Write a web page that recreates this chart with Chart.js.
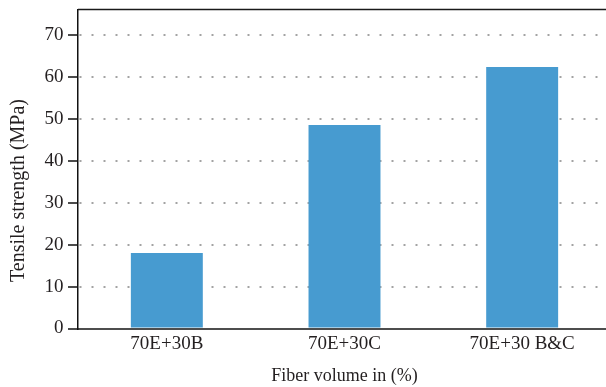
<!DOCTYPE html>
<html>
<head>
<meta charset="utf-8">
<script src="https://cdn.jsdelivr.net/npm/chart.js@4.4.1/dist/chart.umd.min.js"></script>
<style>
  html, body { margin: 0; padding: 0; background: #fff; overflow: hidden; }
  #wrap { width: 612px; height: 387px; }
</style>
</head>
<body>
<div id="wrap"><canvas id="c" width="612" height="387"></canvas></div>
<script>
// Tensile strength of the three fibre blends
const categories = ['70E+30B', '70E+30C', '70E+30 B&C'];
const tensileStrength = [18, 48.5, 62.3];
const yTicks = [0, 10, 20, 30, 40, 50, 60, 70];
const yTitle = 'Tensile strength (MPa)';
const xTitle = 'Fiber volume in (%)';

const serif = '"Liberation Serif", "Times New Roman", serif';
const textColor = '#231f20';

// Dark rule along the top edge of the plot area, and the y-axis title
// centred on the full figure height
const frame = {
  id: 'frame',
  afterDraw(chart) {
    const { ctx, chartArea, height } = chart;
    ctx.save();
    ctx.strokeStyle = '#1a1a1a';
    ctx.lineWidth = 1.5;
    ctx.beginPath();
    ctx.moveTo(chartArea.left, chartArea.top);
    ctx.lineTo(chartArea.right, chartArea.top);
    ctx.stroke();

    ctx.translate(19, height / 2 - 3);
    ctx.rotate(-Math.PI / 2);
    ctx.fillStyle = textColor;
    ctx.font = '20px ' + serif;
    ctx.textAlign = 'center';
    ctx.textBaseline = 'middle';
    ctx.fillText(yTitle, 0, 0);
    ctx.restore();
  }
};

new Chart(document.getElementById('c'), {
  type: 'bar',
  data: {
    labels: categories,
    datasets: [{
      data: tensileStrength,
      backgroundColor: '#479bd0',
      borderWidth: 0,
      barPercentage: 0.405,
      categoryPercentage: 1
    }]
  },
  options: {
    responsive: false,
    animation: false,
    devicePixelRatio: 1,
    layout: { padding: { top: 9.5, right: 1, left: 0, bottom: 0 } },
    plugins: { legend: { display: false }, tooltip: { enabled: false } },
    scales: {
      x: {
        grid: { display: false, drawTicks: false },
        border: { display: true, color: '#4d4d4d', width: 2 },
        ticks: { color: textColor, font: { family: serif, size: 19 }, padding: 4 },
        title: {
          display: true,
          text: xTitle,
          color: textColor,
          font: { family: serif, size: 18 },
          padding: { top: 2, bottom: 0 }
        },
        afterFit(scale) {
          scale.height = 58.5;
          scale.paddingLeft = 0;
          scale.paddingRight = 0;
        }
      },
      y: {
        min: 0,
        max: 76,
        afterBuildTicks(scale) { scale.ticks = yTicks.map(v => ({ value: v })); },
        ticks: { color: textColor, font: { family: serif, size: 19 }, padding: 4.5, includeBounds: false },
        grid: {
          color: '#a3a3a3',
          lineWidth: 2,
          drawTicks: true,
          tickLength: 10,
          tickColor: '#111',
          tickWidth: 1.5,
          tickBorderDash: []
        },
        border: { display: true, color: '#111', width: 1.5, dash: [2, 10], dashOffset: 11 },
        title: { display: false },
        afterFit(scale) {
          scale.width = 78;
          scale.paddingTop = 0;
          scale.paddingBottom = 0;
        }
      }
    }
  },
  plugins: [frame]
});
</script>
</body>
</html>
